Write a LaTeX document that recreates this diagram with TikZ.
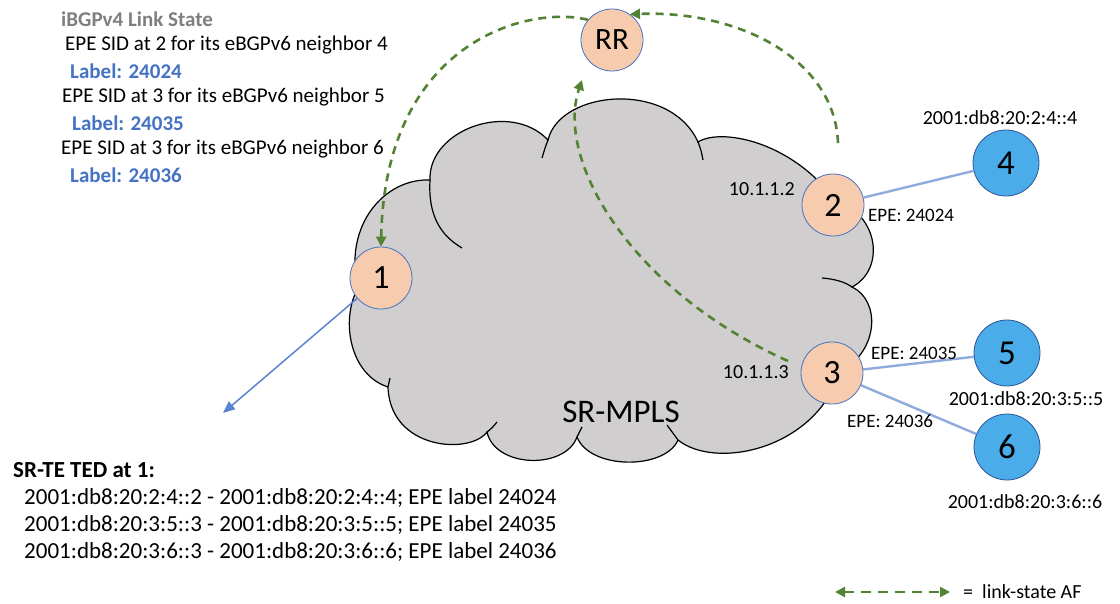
\documentclass[tikz,border=0pt]{standalone}
\usepackage{fontspec}
\setmainfont{Carlito}
\usetikzlibrary{arrows.meta}
\definecolor{peach}{HTML}{F6CBAE}
\definecolor{peachborder}{HTML}{4472C4}
\definecolor{nblue}{HTML}{4AACE8}
\definecolor{bborder}{HTML}{2F5597}
\definecolor{cloudgray}{HTML}{D0CECE}
\definecolor{linkblue}{HTML}{8FAADC}
\definecolor{arrowblue}{HTML}{5B84D0}
\definecolor{lsgreen}{HTML}{548235}
\definecolor{lblblue}{HTML}{4472C4}
\definecolor{titlegray}{HTML}{7F7F7F}
\tikzset{
  txt/.style={inner sep=0pt, anchor=west, font=\fontsize{21pt}{25pt}\selectfont},
  lbl/.style={inner sep=0pt, anchor=west, text=lblblue, font=\bfseries\fontsize{21pt}{25pt}\selectfont},
  ted/.style={inner sep=0pt, anchor=west, font=\fontsize{23pt}{27pt}\selectfont},
  small/.style={inner sep=0pt, font=\fontsize{19pt}{22pt}\selectfont},
  addr/.style={inner sep=0pt, font=\fontsize{20pt}{24pt}\selectfont},
  pnode/.style={circle, draw=peachborder, fill=peach, line width=0.8pt, minimum size=62pt, inner sep=0pt, font=\fontsize{34pt}{34pt}\selectfont},
  bnode/.style={circle, draw=bborder, fill=nblue, line width=0.8pt, minimum size=66pt, inner sep=0pt, font=\fontsize{35pt}{35pt}\selectfont},
  cloudline/.style={draw=black, line width=1.2pt},
  ls/.style={draw=lsgreen, line width=2.6pt, dash pattern=on 8pt off 6pt},
  lstip/.style={-{Triangle[length=10pt,width=10pt]}},
  link/.style={draw=linkblue, line width=2.4pt},
}
\begin{document}
\begin{tikzpicture}[x=1pt,y=-1pt]
\useasboundingbox (0,0) rectangle (1120,604);
% cloud
\path[cloudline, fill=cloudgray]
 (358,288) .. controls (343,225) and (385,178) .. (430,180)
 .. controls (428,130) and (510,100) .. (548,140)
 .. controls (560,90) and (670,80) .. (698,142)
 .. controls (720,128) and (790,140) .. (835,200)
 .. controls (880,215) and (885,270) .. (852,287)
 .. controls (880,300) and (880,350) .. (840,372)
 .. controls (815,450) and (715,470) .. (678,440)
 .. controls (665,470) and (590,470) .. (577,437)
 .. controls (565,470) and (495,468) .. (487,432)
 .. controls (470,455) and (390,450) .. (388,387)
 .. controls (350,375) and (340,320) .. (358,288) -- cycle;
\draw[cloudline] (430,180) .. controls (428,215) and (440,235) .. (462,248);
\draw[cloudline] (548,140) .. controls (545,148) .. (542,158);
\draw[cloudline] (698,142) .. controls (701,150) .. (703,160);
\draw[cloudline] (822,278) .. controls (835,279) and (845,282) .. (852,287);
\draw[cloudline] (678,440) .. controls (673,433) .. (667,425);
\draw[cloudline] (577,437) .. controls (579,432) .. (582,427);
\draw[cloudline] (487,432) .. controls (492,428) .. (497,422);
\draw[cloudline] (388,387) .. controls (389,383) .. (390,378);
\node[inner sep=0pt, font=\fontsize{33pt}{33pt}\selectfont] (mpls) at (621,412) {SR-MPLS};

% nodes
\node[pnode, font=\fontsize{31pt}{31pt}\selectfont] (RR) at (612,40) {RR};
\node[pnode] (n1) at (381,278) {1};
\node[pnode] (n2) at (833,205) {2};
\node[pnode] (n3) at (832,373) {3};
\node[bnode] (n4) at (1006,163) {4};
\node[bnode] (n5) at (1007,353) {5};
\node[bnode] (n6) at (1007,447) {6};

% links
\draw[link] (n2) -- (n4);
\draw[link] (n3) -- (n5);
\draw[link] (n3) -- (n6);
\coordinate (t1) at (223,413);
\draw[draw=arrowblue, line width=1.5pt, -{Triangle[length=12pt,width=10pt]}] (n1) -- (t1);

% link-state AF sessions
\coordinate (c2) at (838,143);
\coordinate (c3) at (788,361);
\coordinate (c3tip) at (582,80);
\draw[ls, lstip] (RR.140) .. controls (530,5) and (385,40) .. (n1.north);
\draw[ls, lstip] (c2) .. controls (835,60) and (740,10) .. (RR.55);
\draw[ls, lstip] (c3) .. controls (630,290) and (555,160) .. (c3tip);

% labels near nodes
\node[addr, anchor=east] (ip2) at (795,189) {10.1.1.2};
\node[addr, anchor=east] (ip3) at (789,372) {10.1.1.3};
\node[small, anchor=west] (e4) at (868,215) {EPE: 24024};
\node[small, anchor=west] (e5) at (871,353) {EPE: 24035};
\node[small, anchor=west] (e6) at (847,421) {EPE: 24036};
\node[addr] (a4) at (1000,118) {2001:db8:20:2:4::4};
\node[addr] (a5) at (1026,399) {2001:db8:20:3:5::5};
\node[addr] (a6) at (1025,502) {2001:db8:20:3:6::6};

% top-left text
\node[inner sep=0pt, anchor=west, text=titlegray, font=\bfseries\fontsize{21pt}{25pt}\selectfont] (ttl) at (61,19) {iBGPv4 Link State};
\node[txt] (s1) at (65,45) {EPE SID at 2 for its eBGPv6 neighbor 4};
\node[lbl] (l1) at (70,71) {Label: 24024};
\node[txt] (s2) at (62,97) {EPE SID at 3 for its eBGPv6 neighbor 5};
\node[lbl] (l2) at (72,123) {Label: 24035};
\node[txt] (s3) at (61,149) {EPE SID at 3 for its eBGPv6 neighbor 6};
\node[lbl] (l3) at (70,175) {Label: 24036};

% bottom text
\node[ted, font=\bfseries\fontsize{23pt}{27pt}\selectfont] (tedt) at (13,470) {SR-TE TED at 1:};
\node[ted] (ted1) at (24,498) {2001:db8:20:2:4::2 - 2001:db8:20:2:4::4; EPE label 24024};
\node[ted] (ted2) at (24,525) {2001:db8:20:3:5::3 - 2001:db8:20:3:5::5; EPE label 24035};
\node[ted] (ted3) at (24,552) {2001:db8:20:3:6::3 - 2001:db8:20:3:6::6; EPE label 24036};

% legend
\coordinate (lgA) at (835,592);
\coordinate (lgB) at (950,592);
\draw[ls, dash pattern=on 10pt off 7pt, {Triangle[length=10pt,width=10pt]}-{Triangle[length=10pt,width=10pt]}] (lgA) -- (lgB);
\node[addr, anchor=west] (lgt) at (963,592) {=\ \ link-state AF};
\end{tikzpicture}
\end{document}
